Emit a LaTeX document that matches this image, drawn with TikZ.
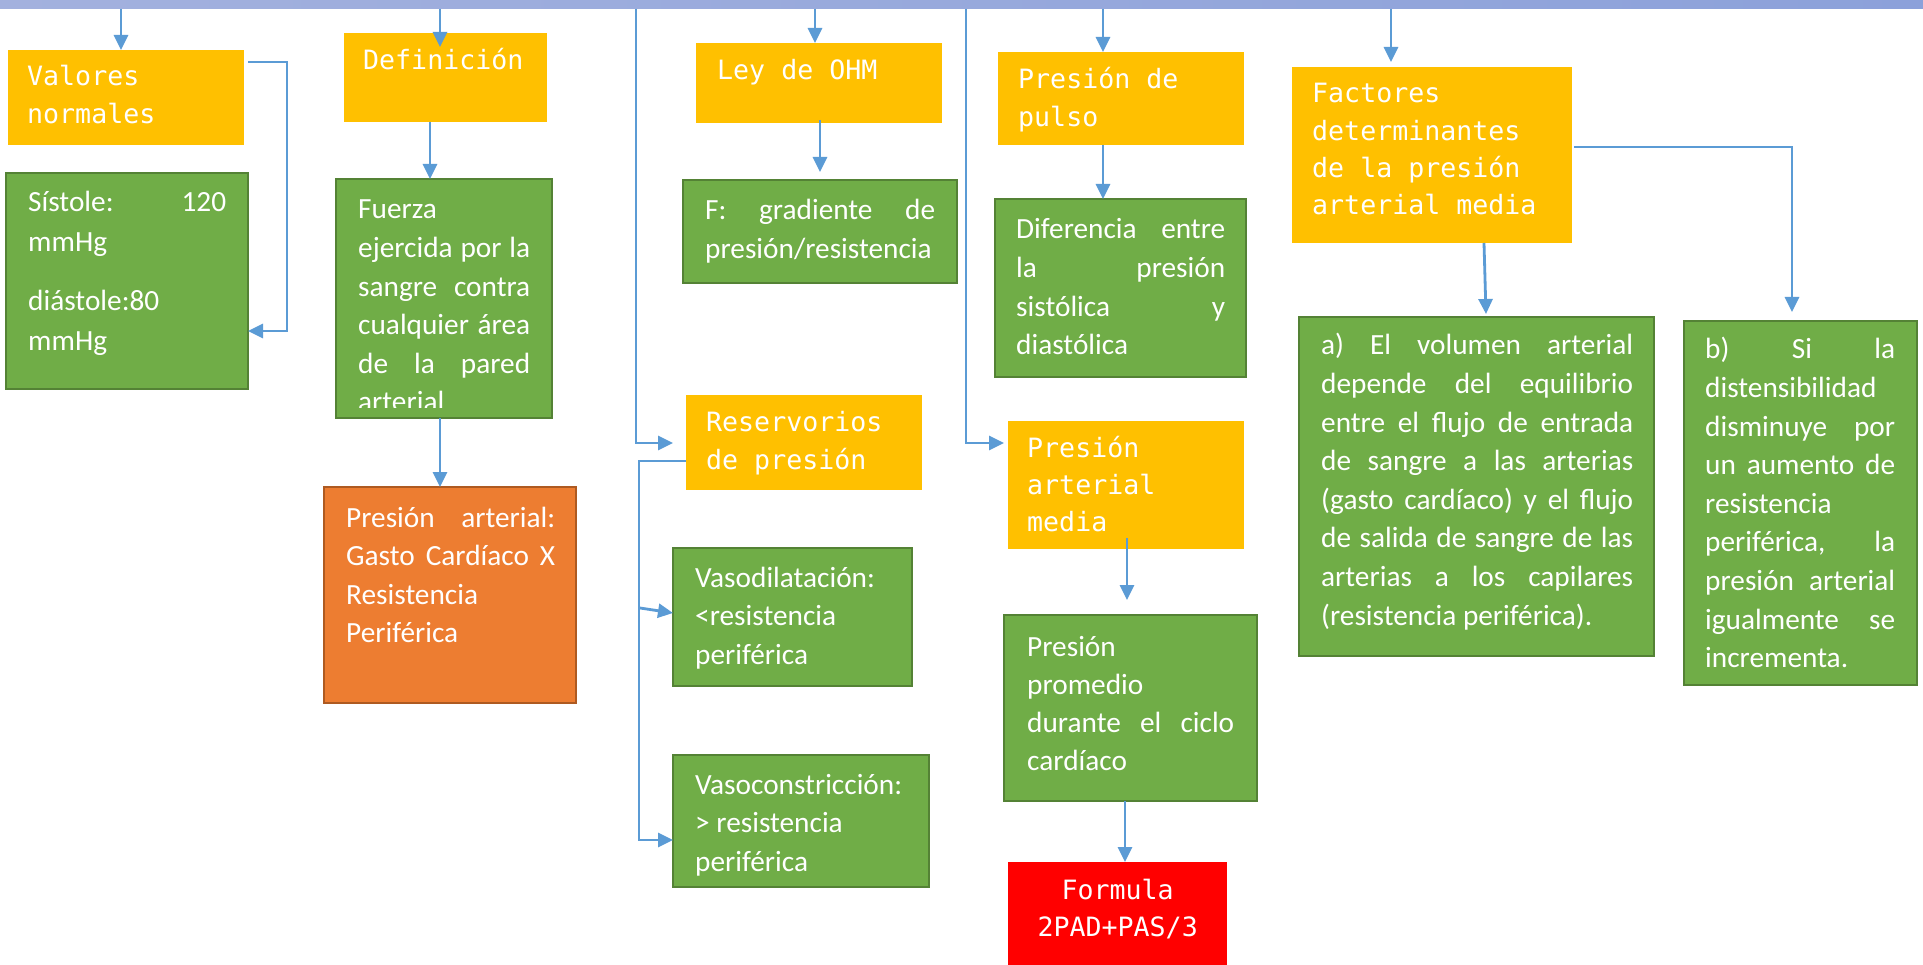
\documentclass[tikz,border=0pt]{standalone}
\usepackage{fontspec}
\newfontfamily\carl{Carlito}
\newfontfamily\mono{DejaVu Sans Mono}
\usetikzlibrary{arrows.meta}
\definecolor{hdr}{HTML}{FFC000}
\definecolor{grn}{HTML}{70AD47}
\definecolor{grnb}{HTML}{548235}
\definecolor{org}{HTML}{ED7D31}
\definecolor{orgb}{HTML}{AE5A21}
\definecolor{arrb}{HTML}{5B9BD5}
\definecolor{barl}{HTML}{A3B1DE}
\definecolor{barr}{HTML}{8CA1DA}
\newcommand\nsp{\spaceskip=0pt\xspaceskip=0pt\relax}
\begin{document}
\begin{tikzpicture}[x=1pt,y=-1pt,
  box/.style={anchor=north west, inner sep=0pt, outer sep=0pt},
  hbox/.style={box, fill=hdr},
  gbox/.style={box, fill=grn, draw=grnb, line width=2.5pt},
  obox/.style={box, fill=org, draw=orgb, line width=2.5pt},
  rbox/.style={box, fill=red},
  htxt/.style={anchor=base west, inner sep=0pt, text=white, align=left, font=\mono\fontsize{26.6}{37.3}\selectfont},
  gtxt/.style={anchor=base west, inner sep=0pt, text=white, align=left, font=\carl\fontsize{29.3}{38.6}\selectfont},
  arr/.style={draw=arrb, line width=2.8pt, -{Triangle[length=15pt,width=14pt]}},
]
\fill[white] (0,0) rectangle (1923,965);
\useasboundingbox (0,0) rectangle (1923,965);

% top bar
\node[box, minimum width=1923pt, minimum height=9pt, left color=barl, right color=barr] (bar) at (0,0) {};

% header boxes
\node[hbox, minimum width=236pt, minimum height=95pt] (valores) at (8,50) {};
\node[hbox, minimum width=203pt, minimum height=89pt] (defn) at (344,33) {};
\node[hbox, minimum width=246pt, minimum height=80pt] (ley) at (696,43) {};
\node[hbox, minimum width=246pt, minimum height=93pt] (pulso) at (998,52) {};
\node[hbox, minimum width=280pt, minimum height=176pt] (factores) at (1292,67) {};
\node[hbox, minimum width=236pt, minimum height=95pt] (reserv) at (686,395) {};
\node[hbox, minimum width=236pt, minimum height=128pt] (pam) at (1008,421) {};

% content boxes
\node[gbox, minimum width=242pt, minimum height=216pt] (sistole) at (6,173) {};
\node[gbox, minimum width=216pt, minimum height=239pt] (fuerza) at (336,179) {};
\node[gbox, minimum width=274pt, minimum height=103pt] (fgrad) at (683,180) {};
\node[gbox, minimum width=251pt, minimum height=178pt] (dif) at (995,199) {};
\node[obox, minimum width=252pt, minimum height=216pt] (presart) at (324,487) {};
\node[gbox, minimum width=239pt, minimum height=138pt] (vasod) at (673,548) {};
\node[gbox, minimum width=256pt, minimum height=132pt] (vasoc) at (673,755) {};
\node[gbox, minimum width=253pt, minimum height=186pt] (prom) at (1004,615) {};
\node[gbox, minimum width=355pt, minimum height=339pt] (ca) at (1299,317) {};
\node[gbox, minimum width=233pt, minimum height=364pt] (cb) at (1684,321) {};
\node[rbox, minimum width=219pt, minimum height=110pt] (formula) at (1008,862) {};

% header texts
\node[htxt, text width=220pt] (tvalores) at (27,86) {\nsp Valores\\normales};
\node[htxt, text width=180pt] (tdefn) at (363,70) {\nsp Definición};
\node[htxt, text width=220pt] (tley) at (717,80) {\nsp Ley de OHM};
\node[htxt, text width=220pt] (tpulso) at (1018,89) {\nsp Presión de\\pulso};
\node[htxt, text width=260pt] (tfactores) at (1312,103) {\nsp Factores\\determinantes\\de la presión\\arterial media};
\node[htxt, text width=220pt] (treserv) at (706,432) {\nsp Reservorios\\de presión};
\node[htxt, text width=220pt] (tpam) at (1027,457) {\nsp Presión\\arterial\\media};
\node[htxt, text width=219pt, align=center] (tformula) at (1008,899) {\nsp Formula\\2PAD+PAS/3};

% content texts
\node[gtxt, text width=198pt, font=\carl\fontsize{29.3}{40}\selectfont] (tsistole) at (28,212)
  {\nsp Sístole:\hfill 120\\ mmHg\\[19pt] diástole:80\\ mmHg};
\begin{scope}
  \clip (336,179) rectangle (552,408);
  \node[gtxt, text width=172pt] (tfuerza) at (358,219)
    {\nsp Fuerza\\ ejercida\hfill por\hfill la\\ sangre\hfill contra\\ cualquier\hfill área\\ de\hfill la\hfill pared\\ arterial};
\end{scope}
\node[gtxt, text width=230pt] (tfgrad) at (705,220) {\nsp F:\hfill gradiente\hfill de\\ presión/resistencia};
\node[gtxt, text width=209pt] (tdif) at (1016,239)
  {\nsp Diferencia\hfill entre\\ la\hfill presión\\ sistólica\hfill y\\ diastólica};
\node[gtxt, text width=209pt] (tpresart) at (346,527)
  {\nsp Presión\hfill arterial:\\ Gasto\hfill Cardíaco\hfill X\\ Resistencia\\ Periférica};
\node[gtxt, text width=215pt] (tvasod) at (695,587) {\nsp Vasodilatación:\\ <resistencia\\ periférica};
\node[gtxt, text width=225pt] (tvasoc) at (695,794) {\nsp Vasoconstricción:\\ > resistencia\\ periférica};
\node[gtxt, text width=207pt, font=\carl\fontsize{29.3}{38.3}\selectfont] (tprom) at (1027,656)
  {\nsp Presión\\ promedio\\ durante\hfill el\hfill ciclo\\ cardíaco};
\node[gtxt, text width=312pt] (tca) at (1321,355)
  {\nsp a)\hfill El\hfill volumen\hfill arterial\\
   depende\hfill del\hfill equilibrio\\
   entre\hfill el\hfill flujo\hfill de\hfill entrada\\
   de\hfill sangre\hfill a\hfill las\hfill arterias\\
   (gasto\hfill cardíaco)\hfill y\hfill el\hfill flujo\\
   de\hfill salida\hfill de\hfill sangre\hfill de\hfill las\\
   arterias\hfill a\hfill los\hfill capilares\\
   (resistencia periférica).};
\node[gtxt, text width=190pt] (tcb) at (1705,359)
  {\nsp b)\hfill Si\hfill la\\
   distensibilidad\\
   disminuye\hfill por\\
   un\hfill aumento\hfill de\\
   resistencia\\
   periférica,\hfill la\\
   presión\hfill arterial\\
   igualmente\hfill se\\
   incrementa.};

% helper coordinates
\coordinate (k1) at (121,0);
\coordinate (k2) at (440,0);
\coordinate (t2) at (440,47);
\coordinate (k3) at (430,0);
\coordinate (k4) at (440,0);
\coordinate (k5) at (636,0);
\coordinate (r1) at (673,443);
\coordinate (r2) at (639,461);
\coordinate (r3) at (639,840);
\coordinate (r4) at (640,608);
\coordinate (r5) at (673,613);
\coordinate (k6) at (815,0);
\coordinate (s7) at (820,120);
\coordinate (t7) at (820,172);
\coordinate (k8) at (966,0);
\coordinate (m1) at (1004,443);
\coordinate (k9) at (1103,0);
\coordinate (s10) at (1127,538);
\coordinate (t10) at (1127,600);
\coordinate (k11) at (1125,0);
\coordinate (k12) at (1391,0);
\coordinate (t12) at (1391,62);
\coordinate (s13) at (1484,0);
\coordinate (t13) at (1486,314);
\coordinate (f1) at (1574,147);
\coordinate (t14) at (1792,312);
\coordinate (v0) at (248,62);
\coordinate (v2) at (287,331);

% connectors
\draw[arr] (k1 |- bar.south) -- (k1 |- valores.north);
\draw[arr] (v0) -| (v2) -- (sistole.east |- v2);
\draw[arr] (k2 |- bar.south) -- (t2);
\draw[arr] (k3 |- defn.south) -- (k3 |- fuerza.north);
\draw[arr] (k4 |- fuerza.south) -- (k4 |- presart.north);
\draw[arr] (k5 |- bar.south) |- (r1);
\draw[arr] (reserv.west |- r2) -- (r2) -- (r3) -- (vasoc.west |- r3);
\draw[arr] (r4) -- (vasod.west |- r5);
\draw[arr] (k6 |- bar.south) -- (k6 |- ley.north);
\draw[arr] (s7) -- (t7);
\draw[arr] (k8 |- bar.south) |- (m1);
\draw[arr] (k9 |- bar.south) -- (k9 |- pulso.north);
\draw[arr] (k9 |- pulso.south) -- (k9 |- dif.north);
\draw[arr] (s10) -- (t10);
\draw[arr] (k11 |- prom.south) -- (k11 |- formula.north);
\draw[arr] (k12 |- bar.south) -- (t12);
\draw[arr] (s13 |- factores.south) -- (t13);
\draw[arr] (f1) -| (t14);
\end{tikzpicture}
\end{document}
